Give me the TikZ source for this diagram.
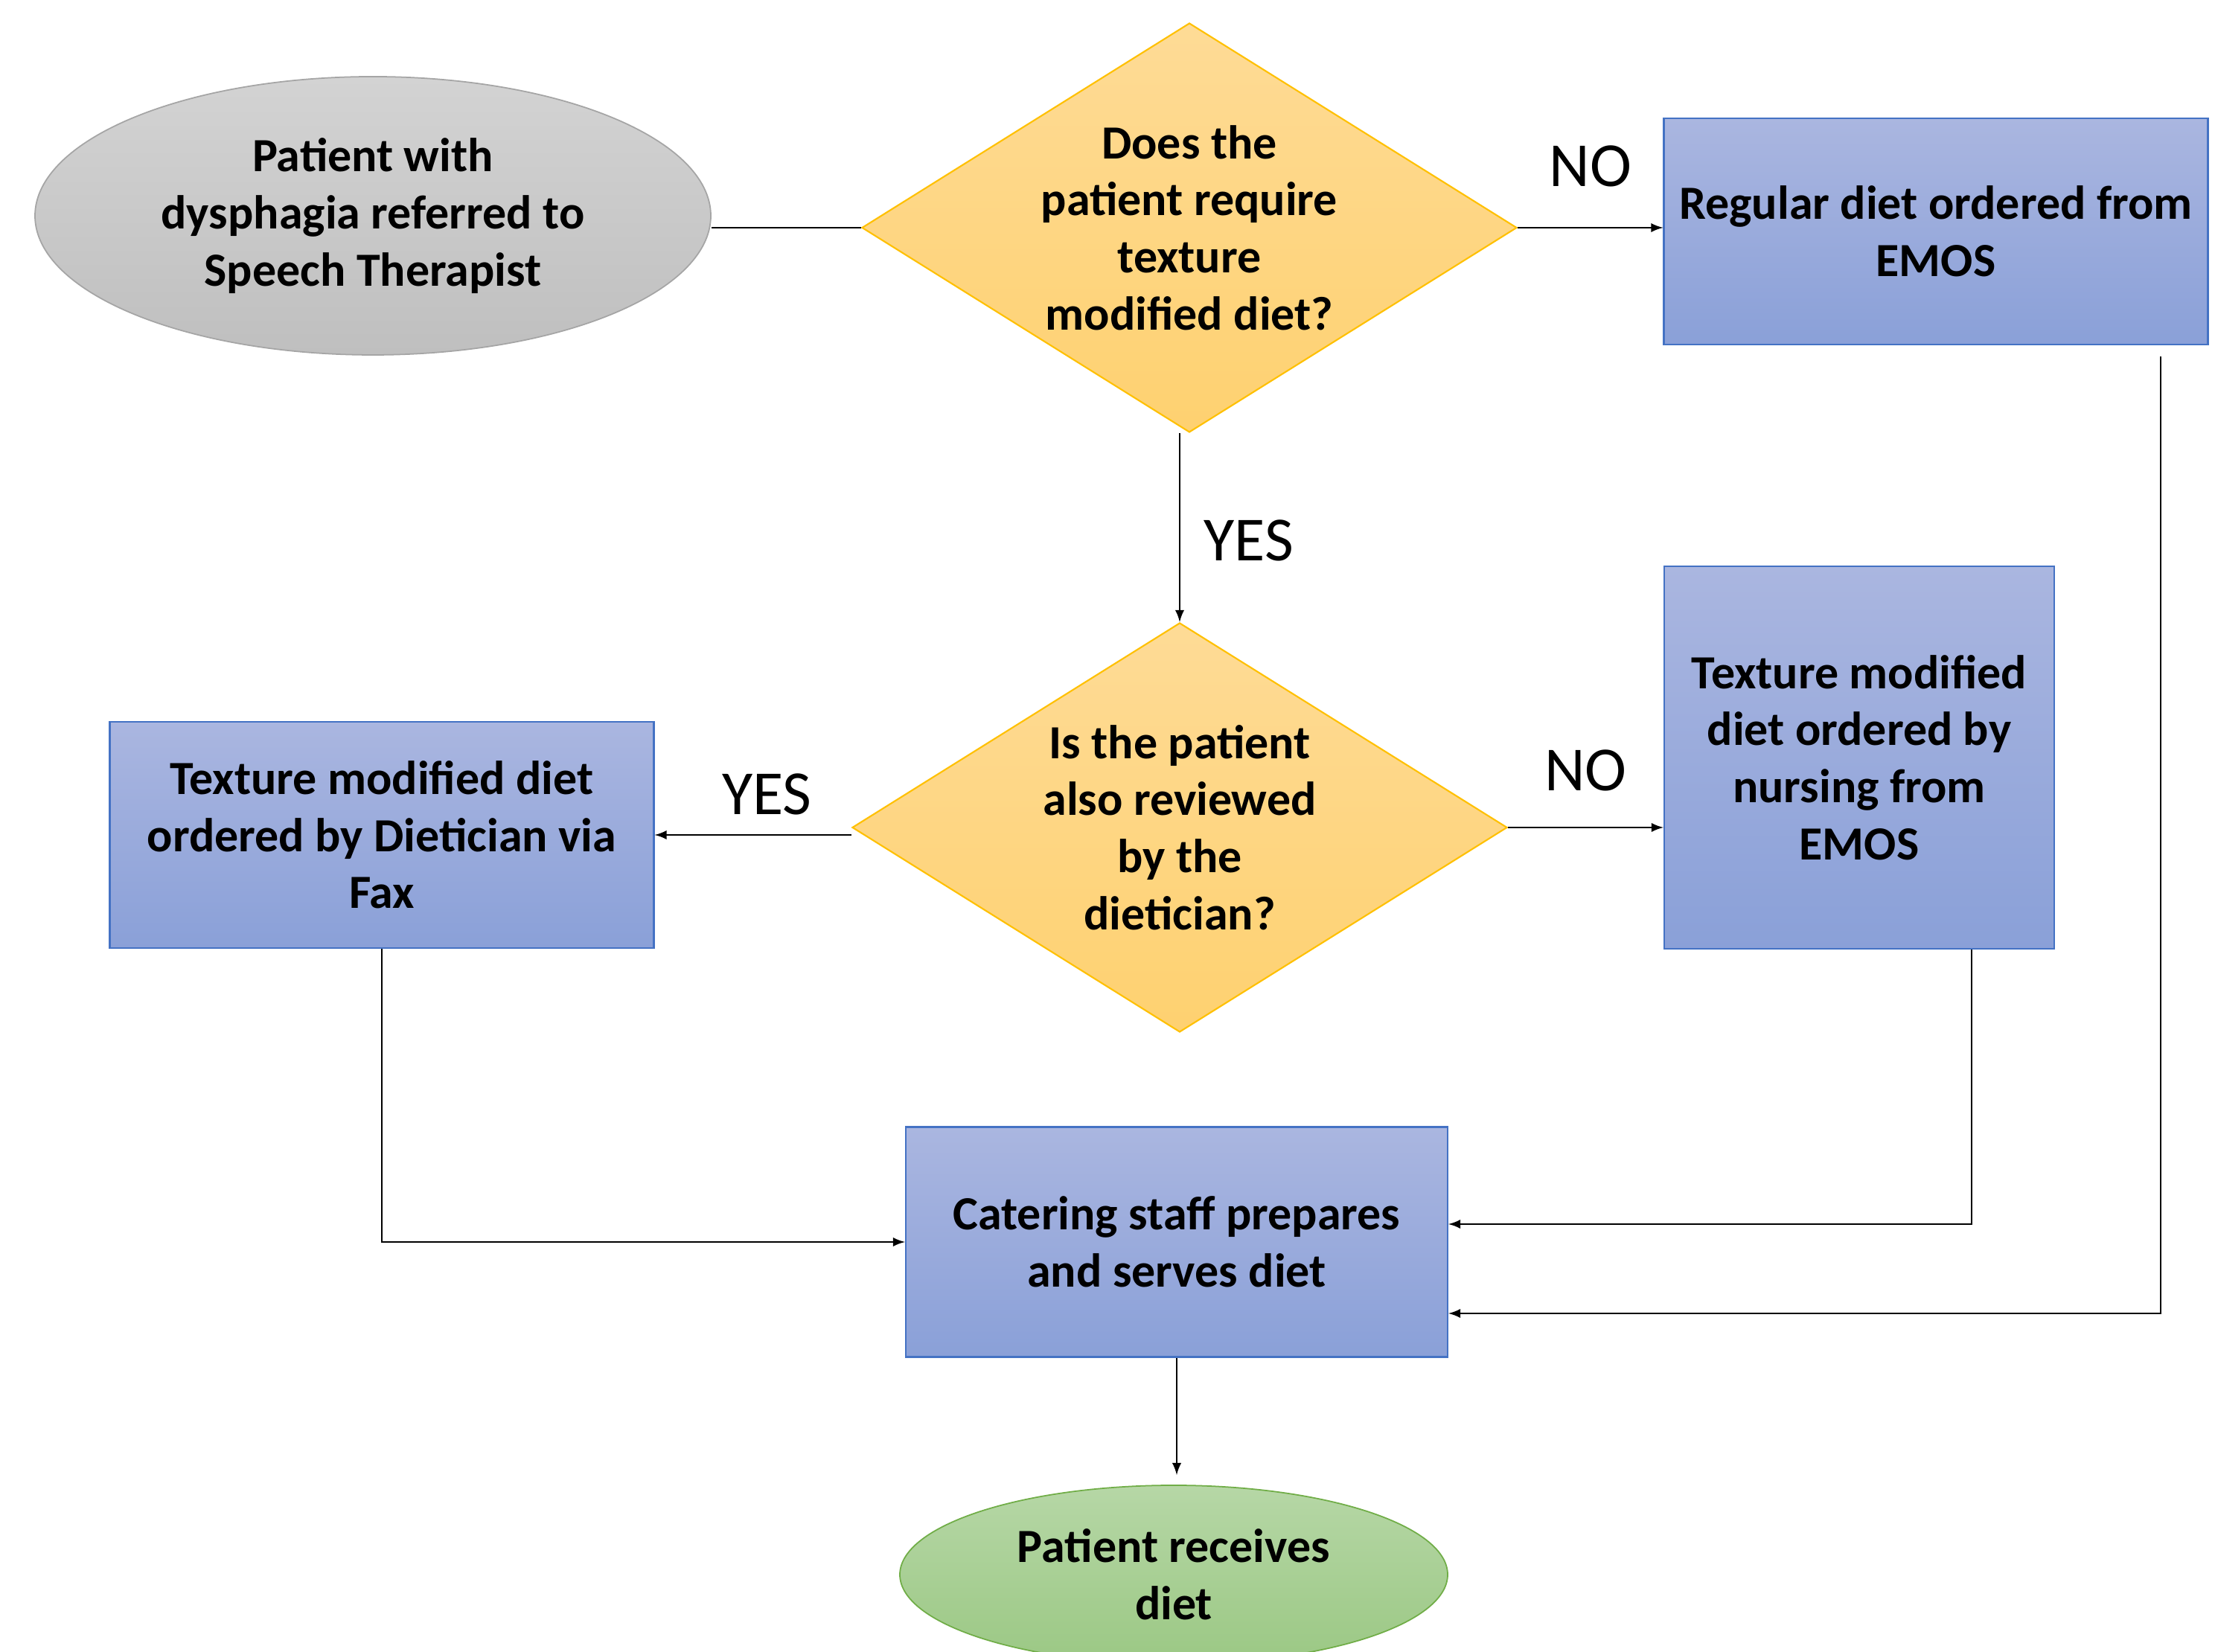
\documentclass[tikz,border=0pt]{standalone}
\usepackage{fontspec}
\setmainfont{Carlito}
\usepackage{tikz}
\tikzset{>=latex}
\usetikzlibrary{shapes.geometric}
\usetikzlibrary{calc}
\definecolor{startgray}{RGB}{211,211,211}
\definecolor{startgraydark}{RGB}{191,191,191}
\definecolor{startline}{RGB}{165,165,165}
\definecolor{askyellow}{RGB}{254,219,150}
\definecolor{askyellowdark}{RGB}{254,209,112}
\definecolor{askline}{RGB}{255,192,0}
\definecolor{stepblue}{RGB}{170,182,224}
\definecolor{stepbluedark}{RGB}{138,160,216}
\definecolor{stepline}{RGB}{68,114,196}
\definecolor{endgreen}{RGB}{182,215,166}
\definecolor{endgreendark}{RGB}{155,200,132}
\definecolor{endline}{RGB}{112,173,71}
\tikzset{
  boxtext/.style={align=center, inner sep=0pt, font=\bfseries\fontsize{18.2}{21.8}\selectfont},
  terminal/.style={boxtext, ellipse, draw=#1line, line width=0.5pt},
  decision/.style={boxtext, diamond, shape aspect=1.6, draw=askline, line width=0.6pt,
    top color=askyellow, bottom color=askyellowdark, minimum width=8.8cm, minimum height=5.5cm},
  process/.style={boxtext, rectangle, draw=stepline, line width=0.6pt,
    top color=stepblue, bottom color=stepbluedark},
  flow/.style={line width=0.6pt},
  answer/.style={font=\fontsize{24}{29}\selectfont}
}
\begin{document}
\begin{tikzpicture}
\useasboundingbox (0,0) rectangle (29.76,22.2);

\node[terminal=start, top color=startgray, bottom color=startgraydark,
  minimum width=9.08cm, minimum height=3.74cm] (patient) at (5.01,19.30)
  {Patient with\\dysphagia referred to\\Speech Therapist};
\node[decision] (needtexture) at (15.98,19.14)
  {Does the\\patient require\\texture\\modified diet?};
\node[process, minimum width=7.31cm, minimum height=3.04cm] (regular) at (26.01,19.09)
  {Regular diet ordered from\\EMOS};
\node[decision] (dietician) at (15.85,11.08)
  {Is the patient\\also reviewed\\by the\\dietician?};
\node[process, minimum width=7.31cm, minimum height=3.04cm] (viafax) at (5.13,10.98)
  {Texture modified diet\\ordered by Dietician via\\Fax};
\node[process, minimum width=5.24cm, minimum height=5.14cm] (nursing) at (24.98,12.02)
  {Texture modified\\diet ordered by\\nursing from\\EMOS};
\node[process, minimum width=7.28cm, minimum height=3.09cm] (catering) at (15.81,5.51)
  {Catering staff prepares\\and serves diet};
\node[terminal=end, top color=endgreen, bottom color=endgreendark,
  minimum width=7.36cm, minimum height=2.4cm] (receives) at (15.77,1.04)
  {Patient receives\\diet};

\draw[flow] (patient.east |- needtexture.west) -- (needtexture.west);
\draw[flow, ->] (needtexture.east) -- (needtexture.east -| regular.west)
  node[answer, midway, above=4.2mm] {NO};
\draw[flow, ->] (needtexture.south -| dietician.north) -- (dietician.north)
  node[answer, pos=0.57, right=2mm] {YES};
\draw[flow, ->] (dietician.west |- viafax.east) -- (viafax.east)
  node[answer, pos=0.43, above=1.4mm] {YES};
\draw[flow, ->] (dietician.east) -- (dietician.east -| nursing.west)
  node[answer, midway, above=3.6mm] {NO};
\draw[flow, ->] (viafax.south) |- (catering.west);
\draw[flow, ->] ([xshift=-1.12cm]nursing.south east) |- ([yshift=0.24cm]catering.east);
\draw[flow, ->] ([xshift=-0.65cm, yshift=-0.15cm]regular.south east) |- ([yshift=-0.96cm]catering.east);
\draw[flow, ->, shorten >=0.13cm] (catering.south) -- (catering.south |- receives.north);
\end{tikzpicture}
\end{document}
